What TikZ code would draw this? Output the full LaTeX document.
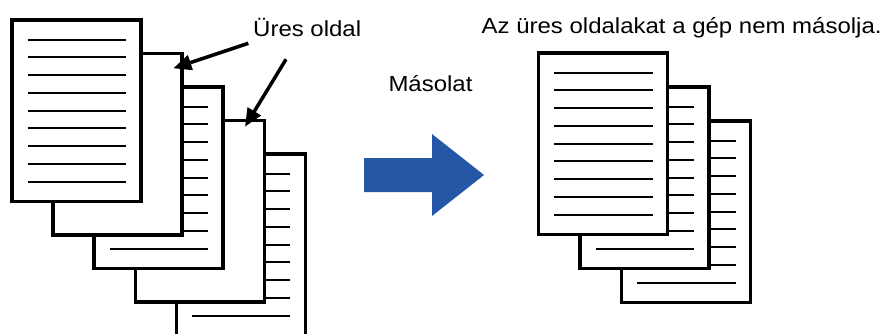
\documentclass[tikz,border=0pt]{standalone}
\usepackage{fontspec}
\newfontfamily\labelfont[FakeStretch=1.1]{Liberation Sans}
\usetikzlibrary{arrows.meta}
\definecolor{copyblue}{RGB}{36,87,166}
\tikzset{
  sheetborder/.style={
    draw=black,
    fill=white,
    line width=3.5pt
  },
  sheetline/.style={
    draw=black,
    line width=2pt
  },
  sheet/.pic={
    \filldraw[sheetborder] (0,0) rectangle (129,181.5);
    \foreach \k in {0,...,8}
      \draw[sheetline] (15.5,{19.5+17.75*\k}) -- (114,{19.5+17.75*\k});
  },
  blanksheet/.pic={
    \filldraw[sheetborder] (0,0) rectangle (129,181.5);
  },
  leader/.style={
    draw=black,
    line width=3.5pt,
    -{Triangle[length=18pt,width=15pt]}
  },
  caption/.style={
    inner sep=0pt,
    anchor=base west,
    font=\fontsize{21.8}{24}\labelfont
  }
}

\begin{document}
\begin{tikzpicture}[x=1pt,y=-1pt]
        \useasboundingbox (0,0) rectangle (880,333);
        \clip (0,0) rectangle (880,333);
        % original stack, back to front
        \pic (orig5) at (176.4,154) {sheet};
        \pic (orig4) at (135.3,120.5) {blanksheet};
        \pic (orig3) at (94.2,87) {sheet};
        \pic (orig2) at (53.1,53.5) {blanksheet};
        \pic (orig1) at (12,20) {sheet};
        % copied stack
        \pic (copy3) at (621.7,121) {sheet};
        \pic (copy2) at (580.1,87) {sheet};
        \pic (copy1) at (538.5,53) {sheet};
        % labels
        \node[caption] (blanklabel) at (253,36.5) {Üres oldal};
        \node[caption] (copylabel) at (388.3,91) {Másolat};
        \node[caption] (resultlabel) at (481.5,33.5) {Az üres oldalakat a gép nem másolja.};
        \coordinate (blankAtail) at (248.3,43.3);
        \coordinate (blankAtip) at (173.3,68.3);
        \coordinate (blankBtail) at (286,59.3);
        \coordinate (blankBtip) at (245,126.7);
        \draw[leader] (blankAtail) -- (blankAtip);
        \draw[leader] (blankBtail) -- (blankBtip);
        % big arrow
        \fill[copyblue] (364,158) -- (432,158) -- (432,134) -- (484,175)
          -- (432,216) -- (432,192) -- (364,192) -- cycle;
    \end{tikzpicture}
\end{document}
